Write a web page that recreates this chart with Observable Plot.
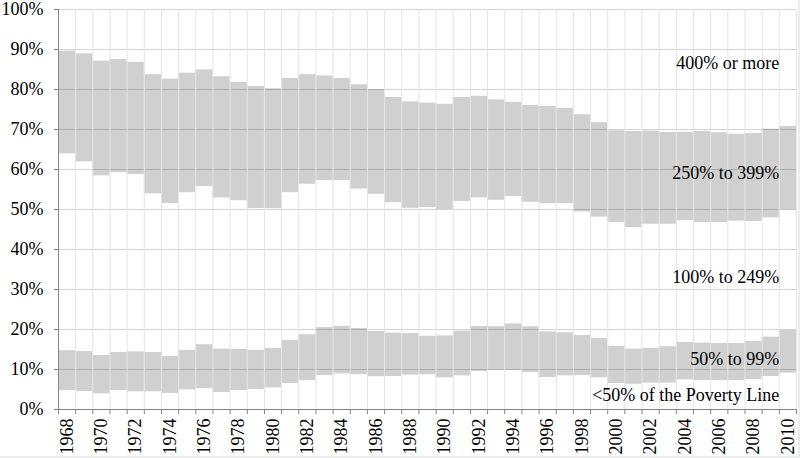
<!DOCTYPE html>
<html>
<head>
<meta charset="utf-8">
<script src="https://cdn.jsdelivr.net/npm/d3@7"></script>
<script src="https://cdn.jsdelivr.net/npm/@observablehq/plot@0.6"></script>
<style>
  html, body { margin: 0; padding: 0; background: #fff; }
  #chart { width: 800px; height: 458px; box-sizing: border-box; border-right: 2px solid #ececec; border-bottom: 2px solid #ececec; overflow: hidden; }
  svg { display: block; font-family: 'Liberation Serif', 'Times New Roman', serif; }
</style>
</head>
<body>
<div id="chart"></div>
<script>
const years = [
  1968, 1969, 1970, 1971, 1972, 1973, 1974, 1975, 1976, 1977,
  1978, 1979, 1980, 1981, 1982, 1983, 1984, 1985, 1986, 1987,
  1988, 1989, 1990, 1991, 1992, 1993, 1994, 1995, 1996, 1997,
  1998, 1999, 2000, 2001, 2002, 2003, 2004, 2005, 2006, 2007,
  2008, 2009, 2010
];
// cumulative share (%) at the top of each income band
const below50 = [
  4.75, 4.5, 3.9, 4.75, 4.4, 4.4, 4.0, 4.9, 5.2, 4.25,
  4.75, 5.0, 5.4, 6.5, 7.25, 8.5, 8.9, 8.7, 8.2, 8.25,
  8.6, 8.7, 7.9, 8.4, 9.5, 9.8, 9.75, 9.25, 8.0, 8.4,
  8.5, 7.9, 6.5, 6.3, 6.6, 6.6, 7.4, 7.25, 7.2, 7.2,
  7.5, 8.25, 9.1
];
const below100 = [
  14.7, 14.5, 13.5, 14.25, 14.4, 14.25, 13.3, 14.8, 16.2, 15.1,
  15.0, 14.8, 15.3, 17.25, 18.7, 20.5, 20.8, 20.25, 19.5, 19.1,
  19.0, 18.3, 18.4, 19.6, 20.75, 20.7, 21.4, 20.7, 19.4, 19.2,
  18.5, 17.75, 15.8, 15.1, 15.3, 15.7, 16.75, 16.6, 16.5, 16.5,
  17.0, 18.1, 19.75
];
const below250 = [
  63.9, 61.9, 58.4, 59.2, 58.75, 53.9, 51.5, 54.2, 55.75, 52.9,
  52.2, 50.25, 50.2, 54.2, 56.3, 57.2, 57.2, 55.1, 53.8, 51.7,
  50.3, 50.5, 50.0, 52.0, 52.9, 52.3, 53.25, 51.8, 51.5, 51.5,
  49.4, 48.1, 46.75, 45.5, 46.3, 46.3, 47.25, 46.7, 46.7, 47.1,
  47.0, 47.9, 49.9
];
const below400 = [
  89.6, 88.9, 87.1, 87.5, 86.8, 83.7, 82.6, 84.1, 84.9, 83.2,
  81.8, 80.75, 80.2, 82.75, 83.7, 83.4, 82.75, 81.2, 80.0, 78.0,
  76.9, 76.6, 76.3, 78.0, 78.3, 77.4, 76.8, 76.0, 75.75, 75.3,
  73.7, 71.7, 69.7, 69.5, 69.6, 69.25, 69.3, 69.5, 69.2, 68.8,
  69.0, 70.1, 70.75
];
const bandNames = ["<50% of the Poverty Line", "50% to 99%", "100% to 249%", "250% to 399%", "400% or more"];
const bandLabelY = [3.5, 12.5, 33, 59, 86.5];
const yTicks = [0, 10, 20, 30, 40, 50, 60, 70, 80, 90, 100];

// gray segments: 50-99% and 250-399%
const segments = [];
years.forEach((yr, i) => {
  segments.push({year: yr, lo: below50[i], hi: below100[i], band: bandNames[1]});
  segments.push({year: yr, lo: below250[i], hi: below400[i], band: bandNames[3]});
});
const boundaries = years.concat([years[years.length - 1] + 1]);
const labelYears = years.filter(y => y % 2 === 0);
const labels = bandNames.map((name, i) => ({name, y: bandLabelY[i], x: years[years.length - 1]}));

const chart = Plot.plot({
  width: 798,
  height: 456,
  marginLeft: 58,
  marginRight: 2,
  marginTop: 9,
  marginBottom: 47,
  style: {fontFamily: "'Liberation Serif', 'Times New Roman', serif", color: "#000", background: "#fff", overflow: "visible"},
  x: {type: "linear", domain: [years[0], years[years.length - 1] + 1]},
  y: {domain: [0, 100]},
  marks: [
    Plot.gridY(yTicks, {stroke: "#d4d4d4", strokeOpacity: 1}),
    Plot.rect(segments, {
      x1: "year", x2: d => d.year + 1, y1: "lo", y2: "hi",
      fill: "#000", fillOpacity: 0.185
    }),
    Plot.ruleX(boundaries, {stroke: "#e4e4e4", strokeOpacity: 1}),
    Plot.ruleX([years[0]], {stroke: "#868686"}),
    Plot.ruleY([0], {stroke: "#868686"}),
    Plot.axisY({ticks: yTicks, tickSize: 4, tickPadding: 11, fontSize: 18, stroke: "#868686", tickFormat: d => d + "%", label: null}),
    Plot.axisX({ticks: boundaries, tickSize: 5, stroke: "#868686", tickFormat: () => "", label: null}),
    Plot.axisX({ticks: labelYears.map(y => y + 0.5), tickSize: 0, tickPadding: 9, tickRotate: -90, fontSize: 18, tickFormat: d => String(d - 0.5), label: null, ariaLabel: "year-labels"}),
    Plot.text(labels, {x: "x", y: "y", text: "name", textAnchor: "end", fontSize: 18, fill: "#000"})
  ]
});
d3.select(chart).selectAll("g[aria-label='year-labels'] text")
  .attr("textLength", 26).attr("lengthAdjust", "spacingAndGlyphs");
document.getElementById("chart").appendChild(chart);
</script>
</body>
</html>
